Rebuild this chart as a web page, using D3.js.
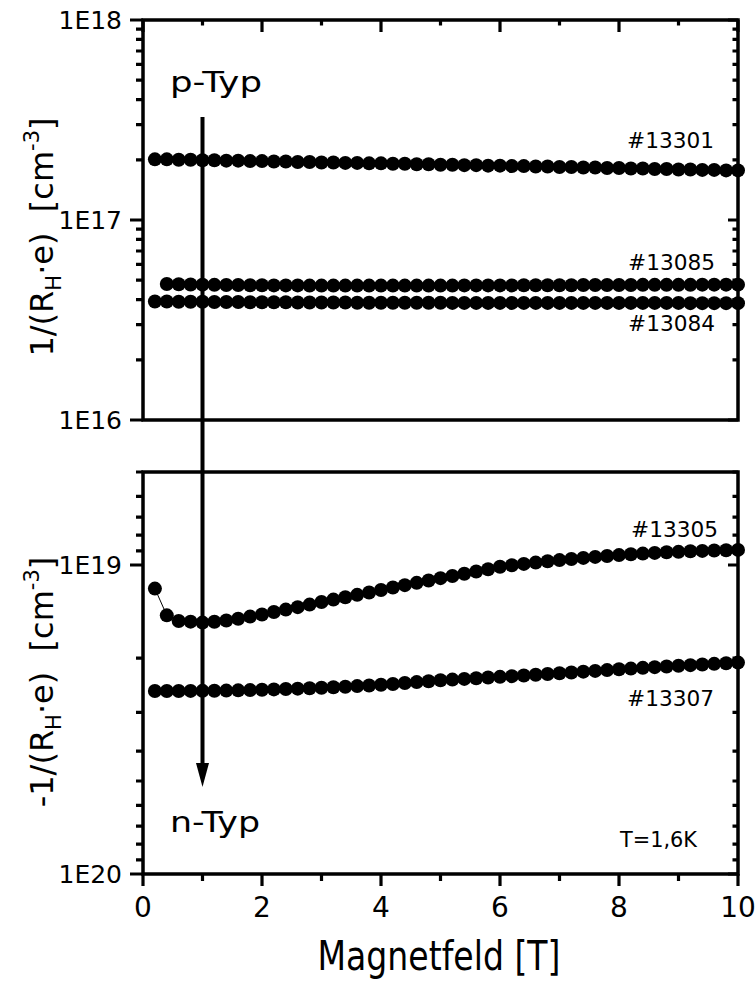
<!DOCTYPE html>
<html><head><meta charset="utf-8">
<script src="https://cdn.jsdelivr.net/npm/d3@7"></script>
<style>
html,body{margin:0;padding:0;background:#fff;}
svg{display:block;font-family:"DejaVu Sans",Verdana,sans-serif;}
text{white-space:pre;}
</style></head>
<body>
<svg id="chart" width="756" height="983"></svg>
<script>
// ---- data ----
const field = [0.2,0.4,0.6,0.8,1.0,1.2,1.4,1.6,1.8,2.0,2.2,2.4,2.6,2.8,3.0,3.2,3.4,3.6,3.8,4.0,4.2,4.4,4.6,4.8,5.0,5.2,5.4,5.6,5.8,6.0,6.2,6.4,6.6,6.8,7.0,7.2,7.4,7.6,7.8,8.0,8.2,8.4,8.6,8.8,9.0,9.2,9.4,9.6,9.8,10.0];
const field13085 = [0.4,0.6,0.8,1.0,1.2,1.4,1.6,1.8,2.0,2.2,2.4,2.6,2.8,3.0,3.2,3.4,3.6,3.8,4.0,4.2,4.4,4.6,4.8,5.0,5.2,5.4,5.6,5.8,6.0,6.2,6.4,6.6,6.8,7.0,7.2,7.4,7.6,7.8,8.0,8.2,8.4,8.6,8.8,9.0,9.2,9.4,9.6,9.8,10.0];
const s13301 = [2.01,2.01,2.00,2.00,1.99,1.99,1.98,1.98,1.97,1.97,1.96,1.96,1.95,1.95,1.94,1.94,1.93,1.93,1.92,1.92,1.91,1.91,1.90,1.90,1.89,1.89,1.88,1.88,1.87,1.87,1.86,1.86,1.85,1.85,1.84,1.84,1.83,1.83,1.82,1.82,1.81,1.81,1.80,1.80,1.79,1.79,1.78,1.78,1.77,1.77]; // x1E17
const s13085 = [4.79,4.77,4.76,4.75,4.74,4.73,4.73,4.72,4.72,4.71,4.71,4.71,4.70,4.70,4.70,4.70,4.70,4.70,4.70,4.70,4.70,4.70,4.70,4.70,4.70,4.71,4.71,4.71,4.71,4.71,4.72,4.72,4.72,4.72,4.72,4.73,4.73,4.73,4.73,4.73,4.74,4.74,4.74,4.74,4.74,4.75,4.75,4.75,4.75]; // x1E16
const s13084 = [3.91,3.91,3.90,3.90,3.90,3.89,3.89,3.89,3.88,3.88,3.88,3.88,3.87,3.87,3.87,3.87,3.87,3.86,3.86,3.86,3.86,3.86,3.86,3.86,3.86,3.85,3.85,3.85,3.85,3.85,3.85,3.85,3.85,3.85,3.85,3.85,3.85,3.85,3.85,3.85,3.85,3.85,3.85,3.85,3.85,3.84,3.84,3.84,3.84,3.84]; // x1E16
const s13305 = [1.192,1.455,1.518,1.525,1.536,1.527,1.512,1.493,1.469,1.446,1.420,1.394,1.369,1.343,1.318,1.294,1.271,1.249,1.227,1.205,1.183,1.162,1.142,1.122,1.103,1.085,1.067,1.050,1.032,1.013,1.002,0.9918,0.9823,0.9728,0.9642,0.9563,0.9485,0.9414,0.9351,0.9289,0.9233,0.9186,0.9138,0.9097,0.9064,0.9030,0.9003,0.8976,0.8956,0.8936]; // x1E19
const s13307 = [2.557,2.557,2.556,2.555,2.554,2.552,2.549,2.545,2.540,2.534,2.527,2.520,2.513,2.505,2.497,2.487,2.476,2.465,2.454,2.442,2.426,2.410,2.393,2.377,2.361,2.349,2.337,2.325,2.313,2.301,2.289,2.277,2.265,2.253,2.241,2.228,2.214,2.201,2.188,2.175,2.164,2.152,2.141,2.130,2.119,2.109,2.099,2.089,2.079,2.069]; // x1E19
const sampleNames = ["#13301","#13085","#13084","#13305","#13307"];
const xTicks = [0,2,4,6,8,10];
const xMinorTicks = [1,3,5,7,9];
const topMajor = [1e16,1e17,1e18];
const botMajor = [1e19,1e20];
const arrowField = [1];

const svg = d3.select("#chart");
const x = d3.scaleLinear().domain([0,10]).range([143,738]);
const yTop = d3.scaleLog().domain([1e16,1e18]).range([420,20]);
const yBot = d3.scaleLog().domain([5e18,1e20]).range([472,874]);
const fmtE = d => "1E" + Math.round(Math.log10(d));
const XL = x.range()[0], XR = x.range()[1];

const tickLayer = svg.append("g").attr("id","ticks");
function tickPath(pairs){
  const d = pairs.map(p=>`M${p[0]},${p[1]}L${p[2]},${p[3]}`).join("");
  tickLayer.append("path").attr("d",d).attr("fill","none").attr("stroke","#000").attr("stroke-width",3.2);
}

function panel(y, majors){
  const [r0, r1] = y.range();
  const yMin = Math.min(r0,r1), yMax = Math.max(r0,r1);
  const isMajor = v => majors.some(m => Math.abs(m-v)/m < 1e-6);
  const minors = y.ticks().filter(v => !isMajor(v));
  tickPath(majors.map(v=>[XL-13, y(v), XL, y(v)]));
  tickPath(minors.map(v=>[XL-7, y(v), XL, y(v)]));
  tickPath(majors.map(v=>[XR-10, y(v), XR, y(v)]));
  tickPath(minors.map(v=>[XR-5.5, y(v), XR, y(v)]));
  svg.append("g").selectAll("text").data(majors).join("text")
    .attr("x", XL-21).attr("y", d=>y(d)).attr("dy","0.36em")
    .attr("text-anchor","end").attr("font-size",25).attr("fill","#000")
    .text(fmtE);
  svg.append("rect").attr("x",XL).attr("y",yMin).attr("width",XR-XL).attr("height",yMax-yMin)
    .attr("fill","none").attr("stroke","#000").attr("stroke-width",3.5);
}
panel(yTop, topMajor);
panel(yBot, botMajor);

const yT = yTop.range()[1];
tickPath(xTicks.map(v=>[x(v), yT, x(v), yT+12]));
tickPath(xMinorTicks.map(v=>[x(v), yT, x(v), yT+5.5]));
const yB = yBot.range()[1];
tickPath(xTicks.map(v=>[x(v), yB, x(v), yB+12]));
tickPath(xMinorTicks.map(v=>[x(v), yB, x(v), yB+7]));
svg.append("g").selectAll("text").data(xTicks).join("text")
  .attr("x", d=>x(d)).attr("y", 917).attr("text-anchor","middle")
  .attr("font-size",28).attr("fill","#000").text(d3.format("d"));

function series(xs, vals, mult, y){
  const pts = xs.map((f,i)=>({x:f, v:vals[i]*mult}));
  svg.append("path").datum(pts)
    .attr("d", d3.line().x(d=>x(d.x)).y(d=>y(d.v)))
    .attr("fill","none").attr("stroke","#000").attr("stroke-width",1);
  svg.append("g").selectAll("circle").data(pts).join("circle")
    .attr("cx",d=>x(d.x)).attr("cy",d=>y(d.v)).attr("r",7).attr("fill","#000");
}
series(field, s13301, 1e17, yTop);
series(field13085, s13085, 1e16, yTop);
series(field, s13084, 1e16, yTop);
series(field, s13305, 1e19, yBot);
series(field, s13307, 1e19, yBot);

const ax = x(arrowField[0]);
svg.append("line").attr("x1",ax).attr("x2",ax).attr("y1",117).attr("y2",768)
  .attr("stroke","#000").attr("stroke-width",4);
svg.append("path").attr("d",`M${ax-6.5},763 L${ax+6.5},763 L${ax},787 Z`).attr("fill","#000");

const T = (t,xp,yp,size,anchor,len)=>{
  const el = svg.append("text").attr("x",xp).attr("y",yp).attr("font-size",size)
    .attr("text-anchor",anchor||"start").attr("fill","#000").text(t);
  if(len) el.attr("textLength",len).attr("lengthAdjust","spacingAndGlyphs");
  return el;
};
T("p-Typ",170,92,28,"start",92);
T("n-Typ",170,832,29,"start",90);
const labelPos = [[714,148],[715,270],[715,331],[718,537],[714,706]];
sampleNames.forEach((n,i)=>T(n,labelPos[i][0],labelPos[i][1],21,"end",87));
T("T=1,6K",697,847,21,"end",77);
T("Magnetfeld [T]",439,970,40,"middle",243);

function yTitle(prefix, cy){
  const t = svg.append("text").attr("transform",`translate(53,${cy}) rotate(-90)`)
    .attr("text-anchor","middle").attr("font-size",32).attr("fill","#000");
  t.append("tspan").text(prefix+"1/(R");
  t.append("tspan").attr("font-size",21).attr("dy",8).text("H");
  t.append("tspan").attr("dy",-8).text("·e)  [cm");
  t.append("tspan").attr("font-size",21).attr("dy",-14).text("-3");
  t.append("tspan").attr("dy",14).text("]");
}
yTitle("", 237);
yTitle("-", 682);
</script>
</body></html>
